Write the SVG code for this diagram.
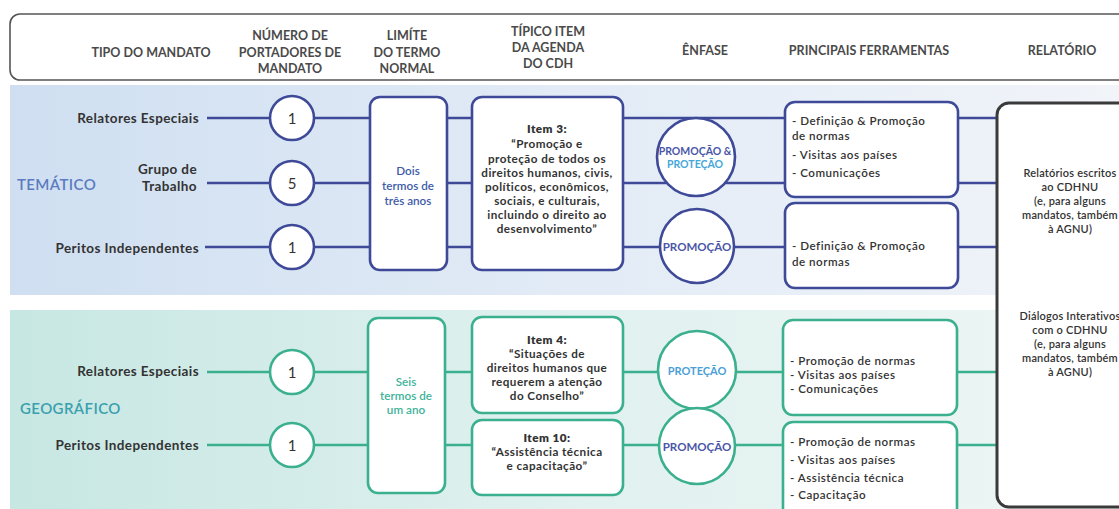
<svg xmlns="http://www.w3.org/2000/svg" width="1119" height="509" viewBox="0 0 1119 509">
<defs>
<linearGradient id="gBlue" x1="0" y1="0" x2="1" y2="0">
<stop offset="0" stop-color="#cfdff1"/>
<stop offset="0.5" stop-color="#e2ebf6"/>
<stop offset="1" stop-color="#f1f4f9"/>
</linearGradient>
<linearGradient id="gTeal" x1="0" y1="0" x2="1" y2="0">
<stop offset="0" stop-color="#c7e7e3"/>
<stop offset="0.5" stop-color="#e0f1ef"/>
<stop offset="1" stop-color="#eef6f5"/>
</linearGradient>
<style>
text{font-family:Lato,"Open Sans","Liberation Sans",sans-serif;dominant-baseline:central}
.hd{font-size:12.5px;font-weight:700;fill:#4a4a4a;text-anchor:middle}
.lbl{font-size:13.5px;font-weight:700;fill:#333;text-anchor:end;letter-spacing:0.4px}
.num{font-size:15px;fill:#333;text-anchor:middle}
.body{font-size:11.7px;fill:#333;text-anchor:middle;font-weight:700;letter-spacing:0.45px}
.item{font-weight:800}
.tool{font-size:11.6px;fill:#333;font-weight:600;letter-spacing:0.5px}
.rep{font-size:11px;fill:#333;text-anchor:middle;font-weight:600;letter-spacing:0.2px}
.cat{font-size:15px;font-weight:600;letter-spacing:0.4px}
.emph{font-size:10.5px;font-weight:700;text-anchor:middle}
.term{font-size:11.7px;font-weight:600;text-anchor:middle}
.bl{stroke:#3e4a98;stroke-width:2.6;fill:#fff}
.tl{stroke:#3bb08e;stroke-width:2.6;fill:#fff}
.cb{stroke:#3e4a98;stroke-width:2.6;fill:none}
.ct{stroke:#3bb08e;stroke-width:2.6;fill:none}
</style>
</defs>
<rect width="1119" height="509" fill="#fff"/>
<rect x="10" y="85" width="1115" height="210" fill="url(#gBlue)"/>
<rect x="10" y="310" width="1115" height="205" fill="url(#gTeal)"/>
<g id="header">
<rect x="10" y="14" width="1125" height="66" rx="10" fill="#fff" stroke="#555" stroke-width="1.6"/>
<text class="hd" x="151" y="52">TIPO DO MANDATO</text>
<text class="hd"><tspan x="290" y="35">NÚMERO DE</tspan><tspan x="290" y="52">PORTADORES DE</tspan><tspan x="290" y="68">MANDATO</tspan></text>
<text class="hd"><tspan x="407" y="35">LIMÍTE</tspan><tspan x="407" y="52">DO TERMO</tspan><tspan x="407" y="68">NORMAL</tspan></text>
<text class="hd"><tspan x="548" y="31">TÍPICO ITEM</tspan><tspan x="548" y="47">DA AGENDA</tspan><tspan x="548" y="63">DO CDH</tspan></text>
<text class="hd" x="705" y="50">ÊNFASE</text>
<text class="hd" x="869" y="50">PRINCIPAIS FERRAMENTAS</text>
<text class="hd" x="1062" y="50">RELATÓRIO</text>
</g>
<g id="connectors">
<line class="cb" x1="207" y1="118" x2="997" y2="118"/>
<line class="cb" x1="207" y1="183" x2="997" y2="183"/>
<line class="cb" x1="205" y1="247" x2="997" y2="247"/>
<line class="ct" x1="207" y1="372" x2="997" y2="372"/>
<line class="ct" x1="207" y1="445" x2="997" y2="445"/>
</g>
<g id="tematico-label"><text class="cat" x="17" y="184" fill="#5a7bbf">TEMÁTICO</text></g>
<g id="geografico-label"><text class="cat" x="20" y="408" fill="#3aa0ad">GEOGRÁFICO</text></g>
<g id="t-relatores"><text class="lbl" x="199" y="118">Relatores Especiais</text></g>
<g id="t-grupo"><text class="lbl"><tspan x="197" y="169">Grupo de</tspan><tspan x="197" y="186">Trabalho</tspan></text></g>
<g id="t-peritos"><text class="lbl" x="199" y="248">Peritos Independentes</text></g>
<g id="t-n1"><circle class="bl" cx="292" cy="118" r="22"/><text class="num" x="292" y="118">1</text></g>
<g id="t-n2"><circle class="bl" cx="292" cy="183" r="22"/><text class="num" x="292" y="183">5</text></g>
<g id="t-n3"><circle class="bl" cx="292" cy="247" r="22"/><text class="num" x="292" y="247">1</text></g>
<g id="t-termo"><rect class="bl" x="370" y="97" width="77" height="173" rx="10"/>
<text class="term" fill="#3e5ba8"><tspan x="408" y="170">Dois</tspan><tspan x="408" y="185">termos de</tspan><tspan x="408" y="200">três anos</tspan></text></g>
<g id="t-item3"><rect class="bl" x="472" y="97" width="151" height="173" rx="10"/>
<text class="body"><tspan class="item" x="547" y="128">Item 3:</tspan><tspan x="547" y="143">“Promoção e</tspan><tspan x="547" y="158">proteção de todos os</tspan><tspan x="547" y="172">direitos humanos, civis,</tspan><tspan x="547" y="186">políticos, econômicos,</tspan><tspan x="547" y="200">sociais, e culturais,</tspan><tspan x="547" y="214">incluindo o direito ao</tspan><tspan x="547" y="228">desenvolvimento”</tspan></text></g>
<g id="t-enf1"><circle class="bl" cx="696" cy="157" r="39"/>
<text class="emph"><tspan x="695" y="151" fill="#4a56a8">PROMOÇÃO &amp;</tspan><tspan x="695" y="164" fill="#45a7d9">PROTEÇÃO</tspan></text></g>
<g id="t-enf2"><circle class="bl" cx="697" cy="246" r="37"/>
<text class="emph" x="697" y="246" fill="#4a56a8" style="font-size:11.5px">PROMOÇÃO</text></g>
<g id="t-tools1"><rect class="bl" x="785" y="102" width="173" height="95" rx="10"/>
<text class="tool"><tspan x="792" y="120">- Definição &amp; Promoção</tspan><tspan x="792" y="135">de normas</tspan><tspan x="792" y="154">- Visitas aos países</tspan><tspan x="792" y="172">- Comunicações</tspan></text></g>
<g id="t-tools2"><rect class="bl" x="785" y="203" width="173" height="85" rx="10"/>
<text class="tool"><tspan x="792" y="245">- Definição &amp; Promoção</tspan><tspan x="792" y="261">de normas</tspan></text></g>
<g id="relatorio"><rect x="997" y="103" width="140" height="404" rx="12" fill="#fff" stroke="#3a3a3a" stroke-width="3"/>
<text class="rep"><tspan x="1070" y="172">Relatórios escritos</tspan><tspan x="1070" y="186">ao CDHNU</tspan><tspan x="1070" y="200">(e, para alguns</tspan><tspan x="1070" y="214">mandatos, também</tspan><tspan x="1070" y="228">à AGNU)</tspan></text>
<text class="rep"><tspan x="1070" y="315">Diálogos Interativos</tspan><tspan x="1070" y="329">com o CDHNU</tspan><tspan x="1070" y="343">(e, para alguns</tspan><tspan x="1070" y="357">mandatos, também</tspan><tspan x="1070" y="371">à AGNU)</tspan></text></g>
<g id="g-relatores"><text class="lbl" x="199" y="371">Relatores Especiais</text></g>
<g id="g-peritos"><text class="lbl" x="199" y="445">Peritos Independentes</text></g>
<g id="g-n1"><circle class="tl" cx="292" cy="372" r="22"/><text class="num" x="292" y="372">1</text></g>
<g id="g-n2"><circle class="tl" cx="292" cy="445" r="22"/><text class="num" x="292" y="445">1</text></g>
<g id="g-termo"><rect class="tl" x="368" y="318" width="77" height="175" rx="10"/>
<text class="term" fill="#3db39a"><tspan x="406" y="381">Seis</tspan><tspan x="406" y="395">termos de</tspan><tspan x="406" y="409">um ano</tspan></text></g>
<g id="g-item4"><rect class="tl" x="472" y="317" width="151" height="96" rx="10"/>
<text class="body"><tspan class="item" x="547" y="339">Item 4:</tspan><tspan x="547" y="353">“Situações de</tspan><tspan x="547" y="367">direitos humanos que</tspan><tspan x="547" y="381">requerem a atenção</tspan><tspan x="547" y="395">do Conselho”</tspan></text></g>
<g id="g-item10"><rect class="tl" x="472" y="420" width="151" height="75" rx="10"/>
<text class="body"><tspan class="item" x="547" y="437">Item 10:</tspan><tspan x="547" y="451">“Assistência técnica</tspan><tspan x="547" y="465">e capacitação”</tspan></text></g>
<g id="g-enf1"><circle class="tl" cx="697" cy="370" r="39"/>
<text class="emph" x="697" y="370" fill="#4a9fd6" style="font-size:11px">PROTEÇÃO</text></g>
<g id="g-enf2"><circle class="tl" cx="697" cy="446" r="38"/>
<text class="emph" x="697" y="446" fill="#4a56a8" style="font-size:11.5px">PROMOÇÃO</text></g>
<g id="g-tools1"><rect class="tl" x="783" y="320" width="174" height="95" rx="10"/>
<text class="tool"><tspan x="790" y="360">- Promoção de normas</tspan><tspan x="790" y="374">- Visitas aos países</tspan><tspan x="790" y="388">- Comunicações</tspan></text></g>
<g id="g-tools2"><rect class="tl" x="783" y="422" width="174" height="110" rx="10"/>
<text class="tool"><tspan x="790" y="441">- Promoção de normas</tspan><tspan x="790" y="459">- Visitas aos países</tspan><tspan x="790" y="477">- Assistência técnica</tspan><tspan x="790" y="494">- Capacitação</tspan></text></g>
</svg>
